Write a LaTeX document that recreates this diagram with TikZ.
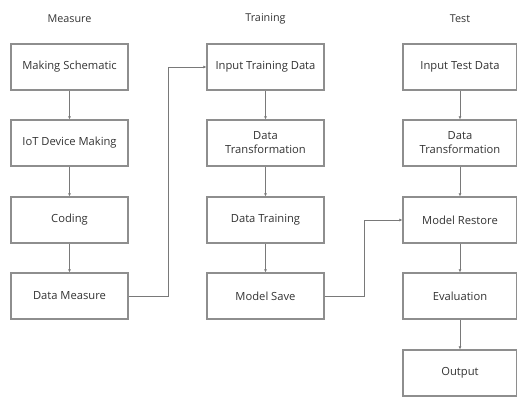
\documentclass[tikz,border=0pt]{standalone}
\usepackage{fontspec}
\setmainfont{Open Sans}
\usetikzlibrary{arrows.meta}
\definecolor{boxline}{HTML}{8E8E8E}
\definecolor{txt}{HTML}{333333}
\begin{document}
\begin{tikzpicture}[x=1pt,y=-1pt,
  stepbox/.style={draw=boxline,line width=1.2pt,minimum width=117pt,minimum height=46pt,
    inner sep=0pt,align=center,text=txt,font=\fontsize{11.2}{14}\selectfont},
  head/.style={text=txt,font=\fontsize{10.8}{12}\selectfont},
  conn/.style={draw=boxline!85!black,line width=0.9pt,-{Latex[length=3pt,width=3pt]}}]
\useasboundingbox (0,0) rectangle (517,398);
\node[head] (hm) at (69.5,19) {Measure};
\node[head] (ht) at (265.5,19) {Training};
\node[head] (hs) at (460,19) {Test};
% column 1
\node[stepbox] (m1) at (69.5,67) {Making Schematic};
\node[stepbox] (m2) at (69.5,143) {IoT Device Making};
\node[stepbox] (m3) at (69.5,220) {Coding};
\node[stepbox] (m4) at (69.5,296) {Data Measure};
% column 2
\node[stepbox] (t1) at (265.5,67) {Input Training Data};
\node[stepbox] (t2) at (265.5,143) {Data\\Transformation};
\node[stepbox] (t3) at (265.5,220) {Data Training};
\node[stepbox] (t4) at (265.5,296) {Model Save};
% column 3
\node[stepbox,minimum width=114pt] (s1) at (460,67) {Input Test Data};
\node[stepbox,minimum width=114pt] (s2) at (460,143) {Data\\Transformation};
\node[stepbox,minimum width=114pt] (s3) at (460,220) {Model Restore};
\node[stepbox,minimum width=114pt] (s4) at (460,296) {Evaluation};
\node[stepbox,minimum width=114pt] (s5) at (460,373) {Output};
\draw[conn] (m1) -- (m2);
\draw[conn] (m2) -- (m3);
\draw[conn] (m3) -- (m4);
\draw[conn] (t1) -- (t2);
\draw[conn] (t2) -- (t3);
\draw[conn] (t3) -- (t4);
\draw[conn] (s1) -- (s2);
\draw[conn] (s2) -- (s3);
\draw[conn] (s3) -- (s4);
\draw[conn] (s4) -- (s5);
\draw[conn] (m4.east) -- (168,296) |- (t1.west);
\draw[conn] (t4.east) -- (364,296) |- (s3.west);
\end{tikzpicture}
\end{document}
